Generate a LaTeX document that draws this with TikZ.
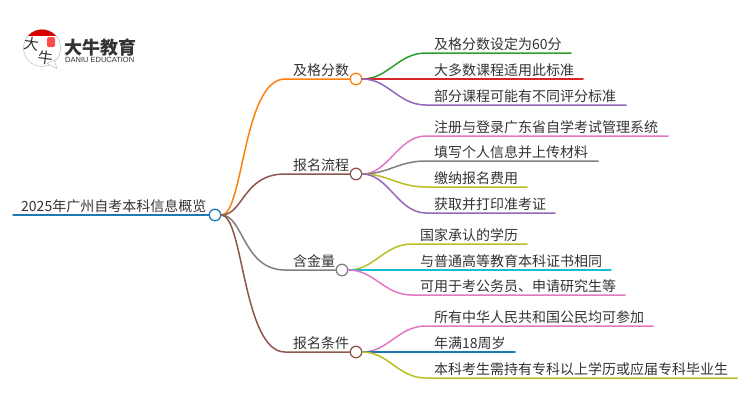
\documentclass[tikz,border=0pt]{standalone}
\usepackage{fontspec}
\setmainfont{Noto Sans CJK SC}
\newfontfamily\latinlogo{Liberation Sans}
\definecolor{cBlue}{HTML}{1F77B4}
\definecolor{cOrange}{HTML}{FF7F0E}
\definecolor{cBrown}{HTML}{8C564B}
\definecolor{cGray}{HTML}{7F7F7F}
\definecolor{cGreen}{HTML}{2CA02C}
\definecolor{cRed}{HTML}{D62728}
\definecolor{cPurple}{HTML}{9467BD}
\definecolor{cPink}{HTML}{E377C2}
\definecolor{cOlive}{HTML}{BCBD22}
\definecolor{cTeal}{HTML}{17BECF}
\definecolor{cText}{HTML}{333333}
\tikzset{
  hub/.style={circle,draw=#1,fill=white,line width=1.3pt,minimum size=11.5pt,inner sep=0pt},
  label/.style={anchor=base west,inner sep=0pt,text=cText,font=\fontsize{14}{14}\selectfont},
  wire/.style={draw=#1,line width=1.5pt,line cap=round},
}
\begin{document}
\begin{tikzpicture}[x=1pt,y=-1pt]
\useasboundingbox (0,0) rectangle (750,410);
% logo
\coordinate (tailA) at (47,63.5);
\coordinate (tailB) at (57,68.5);
\coordinate (tailC) at (54,60);
\fill[white,draw=black!25,line width=.5pt] (42,48) circle (18.5);
\fill[white,draw=black!25,line width=.5pt] (tailA) -- (tailB) -- (tailC) -- cycle;
\fill[white] (46,62) -- (53,60.5) -- (52,57) -- (44,58) -- cycle;
\begin{scope}
\clip (23,29) rectangle (61,35);
\fill[red!85!black] (42,48) circle (18.5);
\end{scope}
\fill[red!70!white,rounded corners=1.5pt] (47,37) rectangle (55,47);
\node[inner sep=0pt,text=cText,font=\fontsize{15}{15}\selectfont,rotate=-8] (logoA) at (32,43.5) {大};
\node[inner sep=0pt,text=cText,font=\fontsize{15}{15}\selectfont,rotate=-8] (logoB) at (46,58) {牛};
\node[anchor=west,inner sep=0pt,text=cText,font=\bfseries\fontsize{18}{18}\selectfont] (logoT) at (64,48) {大牛教育};
\node[anchor=west,inner sep=0pt,text=cText,font=\latinlogo\fontsize{7.5}{8}\selectfont] (logoE) at (65,60.3) {DANIU EDUCATION};
% root
\coordinate (rootS) at (13,215);
\node[hub=cBlue] (root) at (215,215) {};
\draw[wire=cBlue] (rootS) -- (root);
\node[label] (rootT) at (21,211.5) {2025年广州自考本科信息概览};
% branches
\foreach \nm/\yy/\xx/\cc/\txt in {
  a/79/356/cOrange/及格分数,
  b/174/356/cBrown/报名流程,
  c/270/342/cGray/含金量,
  d/352/356/cBrown/报名条件}{
  \node[hub=\cc] (\nm) at (\xx,\yy) {};
  \coordinate (\nm-K) at (285,\yy);
  \draw[wire=\cc] (root.east) .. controls +(22,0) and (243,\yy) .. (\nm-K) -- (\nm);
  \node[label] (\nm-T) at (293,\yy-4) {\txt};
}
% leaves
\foreach \pr/\id/\yy/\xs/\xe/\cc/\txt in {
  a/1/53/434/571/cGreen/及格分数设定为60分,
  a/2/79/434/583/cRed/大多数课程适用此标准,
  a/3/105/434/626/cPurple/部分课程可能有不同评分标准,
  b/1/136/434/668/cPink/注册与登录广东省自学考试管理系统,
  b/2/161/434/598/cGray/填写个人信息并上传材料,
  b/3/187/434/527/cOlive/缴纳报名费用,
  b/4/213/434/555/cPurple/获取并打印准考证,
  c/1/244/420/527/cOlive/国家承认的学历,
  c/2/270/420/611/cTeal/与普通高等教育本科证书相同,
  c/3/295/420/625/cPink/可用于考公务员、申请研究生等,
  d/1/326/434/653/cPink/所有中华人民共和国公民均可参加,
  d/2/352/434/515/cBlue/年满18周岁,
  d/3/378/434/737/cOlive/本科考生需持有专科以上学历或应届专科毕业生}{
  \coordinate (\pr\id-K) at (\xs-8,\yy);
  \coordinate (\pr\id-E) at (\xe,\yy);
  \draw[wire=\cc] (\pr.east) .. controls +(26,0) and (\xs-36,\yy) .. (\pr\id-K) -- (\pr\id-E);
  \node[label] (\pr\id-T) at (\xs,\yy-4) {\txt};
}
\end{tikzpicture}
\end{document}
